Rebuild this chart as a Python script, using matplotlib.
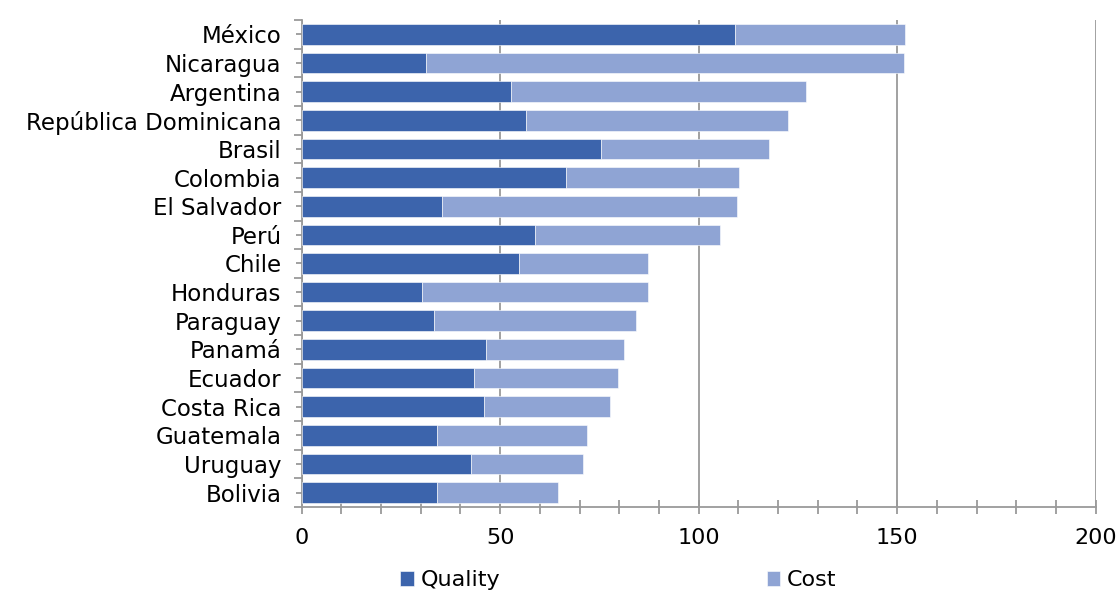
import numpy as np
import matplotlib.pyplot as plt
from matplotlib.ticker import MultipleLocator, FixedLocator

countries = ['México', 'Nicaragua', 'Argentina', 'República Dominicana', 'Brasil',
             'Colombia', 'El Salvador', 'Perú', 'Chile', 'Honduras', 'Paraguay',
             'Panamá', 'Ecuador', 'Costa Rica', 'Guatemala', 'Uruguay', 'Bolivia']
quality = [109.2, 31.3, 52.8, 56.4, 75.3, 66.6, 35.3, 58.8, 54.8, 30.2, 33.3,
           46.4, 43.4, 45.9, 34.0, 42.7, 34.0]
total = [151.9, 151.7, 127.0, 122.5, 117.7, 110.2, 109.6, 105.4, 87.3, 87.2, 84.3,
         81.2, 79.7, 77.7, 71.8, 70.8, 64.7]
cost = [t - q for t, q in zip(total, quality)]

dark = '#3C64AC'
light = '#8FA4D4'
grey = '#9A9A9A'

plt.rcParams['font.family'] = ['DejaVu Sans']
fig = plt.figure(figsize=(11.18, 5.94), dpi=100)
ax = fig.add_axes([0.2698, 0.1465, 0.7102, 0.8198])

y = np.arange(len(countries))
ax.barh(y, quality, height=0.72, color=dark, edgecolor='white', linewidth=0.4, label='Quality', zorder=3)
ax.barh(y, cost, left=quality, height=0.72, color=light, edgecolor='white', linewidth=0.4, label='Cost', zorder=3)

ax.set_xlim(0, 200)
ax.set_ylim(len(countries) - 0.5, -0.5)
ax.xaxis.set_major_locator(MultipleLocator(50))
ax.xaxis.set_minor_locator(MultipleLocator(10))
ax.grid(axis='x', which='major', color=grey, linewidth=1.3, zorder=0)

ax.set_yticks(y)
ax.set_yticklabels(countries)
ax.yaxis.set_minor_locator(FixedLocator(np.arange(-0.5, len(countries), 1)))

for s in ['top', 'right']:
    ax.spines[s].set_visible(False)
for s in ['left', 'bottom']:
    ax.spines[s].set_color(grey)
    ax.spines[s].set_linewidth(1.3)

ax.tick_params(axis='y', which='major', direction='inout', length=9, color=grey, width=1.3,
               labelsize=16.5, pad=10)
ax.tick_params(axis='y', which='minor', direction='out', length=6, color=grey, width=1.3)
ax.tick_params(axis='x', which='both', direction='inout', length=10, color=grey, width=1.3,
               labelsize=16, pad=10)

fig.legend(loc='center', bbox_to_anchor=(0.553, 0.023), ncol=2, frameon=False,
           fontsize=16, handlelength=0.6, handleheight=0.6, handletextpad=0.3,
           columnspacing=12.0)

fig.savefig('out.png', dpi=100)
